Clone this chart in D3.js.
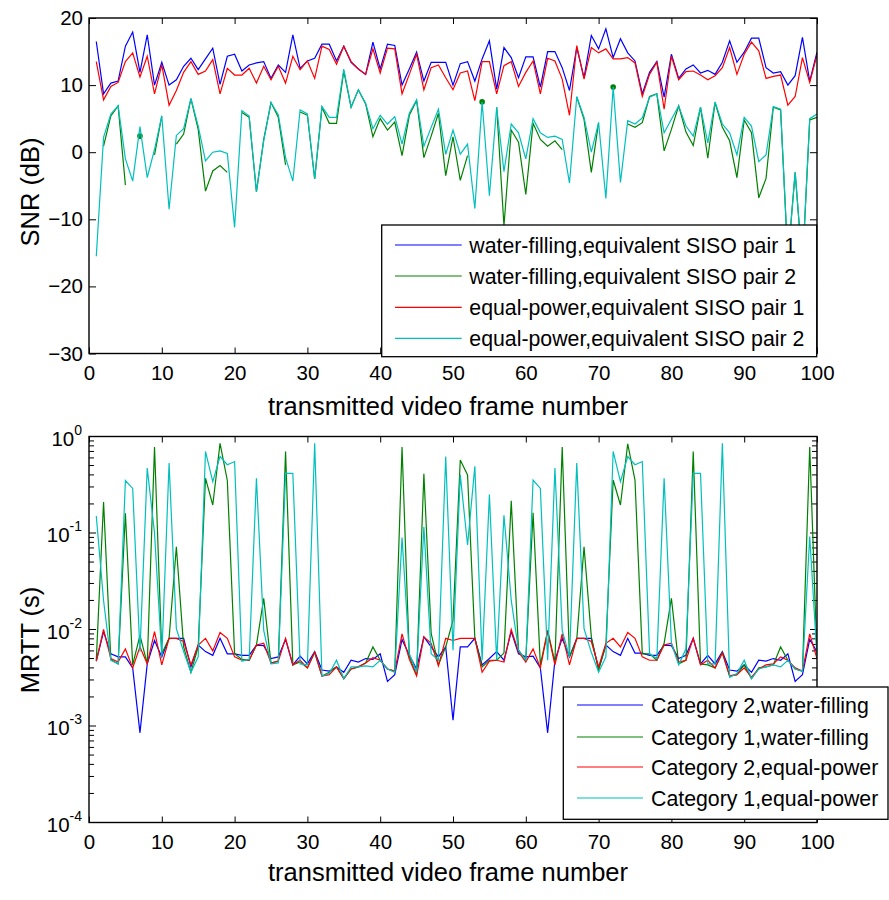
<!DOCTYPE html>
<html>
<head>
<meta charset="utf-8">
<script src="https://cdn.jsdelivr.net/npm/d3@7"></script>
<style>
  body { margin: 0; background: #fff; }
  svg { display: block; }
  text { font-family: "Liberation Sans", Arial, Helvetica, sans-serif; fill: #000; }
</style>
</head>
<body>
<svg id="chart" width="889" height="900"></svg>
<script>
// ---- data -------------------------------------------------------------
const frames = d3.range(1, 101);

// SNR (dB) of the equivalent SISO pairs, per transmitted frame
const snrWaterPair1 = [16.5,8.7,10.3,10.6,15.8,17.9,11.9,17.5,10.0,13.4,10.0,10.8,12.8,14.0,12.3,13.9,15.5,10.1,14.3,14.6,
  12.1,13.0,13.3,13.5,11.0,13.0,11.9,17.5,12.5,13.6,14.0,16.1,16.1,13.6,15.8,13.4,12.4,11.6,16.4,12.4,
  16.1,15.9,10.0,12.4,14.9,10.6,13.4,13.4,13.4,10.0,13.2,13.5,10.6,13.9,16.6,9.4,15.6,14.1,11.1,14.2,
  14.2,9.7,15.0,15.0,12.6,9.2,15.6,11.1,17.4,15.4,18.4,14.1,16.9,14.8,13.6,8.7,11.9,13.5,8.2,14.6,
  11.0,12.4,13.0,11.8,12.2,11.6,13.4,16.6,13.4,14.9,17.0,17.0,12.6,11.8,12.0,10.0,11.4,17.1,10.6,14.9];
const snrWaterPair2 = [null,0.9,5.4,6.9,-4.9,null,2.4,null,-0.4,5.4,null,1.2,2.7,8.0,3.4,-5.8,-2.8,-2.0,-3.0,null,
  5.9,5.2,-5.9,1.9,7.4,5.2,-1.9,null,6.0,5.5,-4.0,6.7,4.3,4.3,12.1,6.7,9.3,7.2,2.3,5.0,
  3.3,4.5,-0.5,5.5,7.7,-0.8,2.4,5.8,-3.5,2.3,-4.2,-0.5,null,7.5,null,6.7,-11.0,3.3,1.5,-6.3,
  4.3,1.9,0.9,1.7,0.4,null,8.2,4.9,-3.0,4.4,null,9.7,null,4.2,3.7,4.4,8.3,8.7,0.2,3.4,
  6.9,3.0,1.0,6.7,-0.9,7.4,3.7,1.7,-3.8,4.8,2.9,-6.8,-3.9,6.7,6.3,-16.0,-3.0,-17.0,4.8,5.2];
const snrEqualPair1 = [13.5,7.8,9.8,10.4,13.5,14.8,11.2,14.3,8.7,13.0,7.0,9.2,11.9,13.5,11.6,12.1,13.8,8.7,12.5,11.5,
  11.5,12.5,10.3,12.8,10.8,12.8,10.3,14.3,12.3,13.6,11.0,15.8,15.3,13.1,15.8,13.5,12.4,11.6,15.4,11.8,
  15.5,15.4,8.7,11.6,14.6,9.3,12.6,13.0,11.1,9.3,11.8,12.1,7.7,13.5,13.5,8.7,12.9,13.5,9.8,11.9,
  13.6,8.7,14.0,13.6,10.9,5.5,15.9,10.9,15.6,14.8,15.4,13.9,13.9,14.1,13.3,8.3,11.6,13.4,6.4,14.3,
  10.8,12.0,12.1,11.5,10.8,11.4,12.6,15.6,11.6,14.6,16.4,15.1,11.0,11.3,11.5,7.0,8.3,14.1,10.4,14.5];
const snrEqualPair2 = [-15.5,2.2,5.7,6.9,-1.0,-4.3,3.8,-3.8,0.4,5.4,-8.5,2.5,3.5,8.0,3.9,-1.3,0.0,0.2,-0.2,-11.2,
  6.2,5.4,-5.9,1.7,7.4,5.6,-0.8,-4.3,6.3,5.7,-4.0,6.8,5.2,5.2,12.4,6.7,9.3,7.3,3.5,5.5,
  4.2,5.3,1.2,5.8,7.8,0.9,3.7,6.4,-0.3,3.3,-0.3,1.2,-8.4,7.5,-6.5,6.7,-2.9,4.2,2.9,-1.0,
  5.0,2.9,2.2,2.4,1.9,-4.6,8.3,5.2,0.0,4.4,-6.9,9.7,-4.5,4.7,4.2,5.1,8.2,8.7,2.9,4.9,
  6.9,3.9,2.4,6.7,1.4,7.5,4.2,2.9,-0.4,5.2,3.9,-1.4,-0.4,6.8,6.4,-16.0,-3.0,-17.0,5.0,5.7];

// MRTT (s) per transmitted frame
const mrttCat2Water = [0.0047,0.0095,0.0056,0.0052,0.0052,0.0040,0.00085,0.0044,0.0077,0.0052,0.0081,0.0081,0.0081,0.0041,0.0069,0.0059,0.0054,0.0081,0.0056,0.0056,
  0.0054,0.0054,0.0069,0.0068,0.0050,0.0052,0.0079,0.0043,0.0053,0.0044,0.0059,0.0038,0.0037,0.0041,0.0036,0.0048,0.0046,0.0050,0.0049,0.0056,
  0.0029,0.0034,0.0079,0.0054,0.0039,0.0084,0.0066,0.0052,0.0066,0.00115,0.0066,0.0066,0.0081,0.0043,0.0050,0.0059,0.0048,0.0095,0.0056,0.0052,
  0.0053,0.0040,0.00085,0.0048,0.0081,0.0052,0.0081,0.0081,0.0081,0.0039,0.0069,0.0059,0.0054,0.0081,0.0057,0.0057,0.0054,0.0054,0.0069,0.0068,
  0.0050,0.0054,0.0081,0.0044,0.0054,0.0044,0.0059,0.0038,0.0037,0.0043,0.0036,0.0048,0.0047,0.0050,0.0048,0.0056,0.0029,0.0034,0.0079,0.0059];
const mrttCat1Water = [0.0048,0.21,0.0049,0.0044,0.16,0.0043,0.0087,0.0044,0.78,0.0056,0.0081,0.072,0.0066,0.0036,0.0066,0.37,0.195,0.85,0.35,0.0056,
  0.0049,0.0048,0.0069,0.021,0.0045,0.0047,0.70,0.0043,0.0046,0.0040,0.0058,0.0033,0.0036,0.0041,0.0031,0.0039,0.0041,0.0045,0.0066,0.0048,
  0.0039,0.0037,0.78,0.0052,0.0034,0.41,0.0091,0.0043,0.0066,0.0124,0.57,0.40,0.0081,0.0041,0.0048,0.0048,0.0057,0.216,0.0061,0.0048,
  0.162,0.0043,0.0098,0.0046,0.78,0.0052,0.0079,0.072,0.0084,0.0038,0.0069,0.354,0.195,0.84,0.354,0.0056,0.0056,0.0048,0.0072,0.021,
  0.0044,0.0048,0.70,0.0044,0.0043,0.0040,0.0058,0.0033,0.0034,0.0043,0.0031,0.0040,0.0041,0.0043,0.0066,0.0048,0.0039,0.0037,0.78,0.0052];
const mrttCat2Equal = [0.0047,0.0100,0.0050,0.0046,0.0063,0.0040,0.0066,0.0044,0.0095,0.0043,0.0081,0.0081,0.0075,0.0043,0.0069,0.0081,0.0060,0.0093,0.0081,0.0052,
  0.0048,0.0048,0.0069,0.0072,0.0045,0.0047,0.0081,0.0043,0.0048,0.0040,0.0058,0.0033,0.0034,0.0041,0.0031,0.0039,0.0041,0.0045,0.0051,0.0048,
  0.0039,0.0037,0.0090,0.0049,0.0033,0.0084,0.0072,0.0042,0.0081,0.0077,0.0081,0.0081,0.0081,0.0036,0.0047,0.0048,0.0046,0.0100,0.0059,0.0046,
  0.0063,0.0040,0.0095,0.0043,0.0090,0.0043,0.0081,0.0081,0.0075,0.0041,0.0072,0.0081,0.0066,0.0093,0.0081,0.0052,0.0048,0.0048,0.0069,0.0072,
  0.0046,0.0048,0.0081,0.0043,0.0048,0.0040,0.0057,0.0033,0.0034,0.0040,0.0032,0.0039,0.0043,0.0044,0.0052,0.0048,0.0040,0.0037,0.0090,0.0050];
const mrttCat1Equal = [0.15,0.020,0.0048,0.0044,0.35,0.29,0.0059,0.47,0.10,0.0052,0.53,0.0102,0.0059,0.0036,0.0052,0.70,0.34,0.62,0.51,0.55,
  0.0047,0.0049,0.37,0.0098,0.0044,0.0045,0.415,0.415,0.0044,0.0043,0.85,0.0033,0.0035,0.0048,0.0031,0.0041,0.0041,0.0042,0.0041,0.0048,
  0.0039,0.0036,0.09,0.0056,0.0036,0.116,0.0056,0.0048,0.62,0.0061,0.40,0.075,0.49,0.0048,0.25,0.0048,0.153,0.020,0.0061,0.0048,
  0.354,0.29,0.0048,0.47,0.0098,0.0052,0.53,0.0102,0.0058,0.0036,0.0052,0.70,0.34,0.62,0.51,0.55,0.0056,0.0050,0.37,0.0072,
  0.0043,0.0063,0.415,0.415,0.0044,0.0044,0.85,0.0032,0.0035,0.0048,0.0031,0.0039,0.0041,0.0043,0.0041,0.0048,0.0039,0.0037,0.092,0.0052];

// axis ticks and labels
const xTickValues = [0,10,20,30,40,50,60,70,80,90,100];
const snrTickValues = [-30,-20,-10,0,10,20];
const mrttTickExponents = [-4,-3,-2,-1,0];
const xAxisTitle = "transmitted video frame number";
const snrAxisTitle = "SNR (dB)";
const mrttAxisTitle = "MRTT (s)";

const snrSeriesNames = ["water-filling,equivalent SISO pair 1","water-filling,equivalent SISO pair 2",
  "equal-power,equivalent SISO pair 1","equal-power,equivalent SISO pair 2"];
const mrttSeriesNames = ["Category 2,water-filling","Category 1,water-filling",
  "Category 2,equal-power","Category 1,equal-power"];

// ---- drawing ----------------------------------------------------------
const colors = ["#0000ff", "#008000", "#ff0000", "#00bfbf"];
const svg = d3.select("#chart");
svg.append("rect").attr("width", 889).attr("height", 900).attr("fill", "#fff");

const x = d3.scaleLinear().domain([0, 100]).range([89, 817]);
const ySnr = d3.scaleLinear().domain([-30, 20]).range([353.5, 18]);
const yMrtt = d3.scaleLog().domain([1e-4, 1]).range([822.5, 436.5]);

const TICK_FONT = 20.5, LABEL_FONT = 25.5, LEGEND_FONT = 21.3;

function frameAxes(id, y, y0, y1) {
  const [xl, xr] = x.range();
  svg.append("clipPath").attr("id", id)
    .append("rect").attr("x", xl).attr("y", y1).attr("width", xr - xl).attr("height", y0 - y1);
  // x ticks, bottom (with labels) and top
  const gb = svg.append("g").attr("transform", `translate(0,${y0})`)
    .call(d3.axisBottom(x).tickValues(xTickValues).tickSizeInner(-6).tickSizeOuter(0).tickPadding(11.5));
  const gt = svg.append("g").attr("transform", `translate(0,${y1})`)
    .call(d3.axisTop(x).tickValues(xTickValues).tickSizeInner(-6).tickSizeOuter(0).tickFormat(""));
  [gb, gt].forEach(g => {
    g.select(".domain").remove();
    g.selectAll("line").attr("stroke", "#000").attr("stroke-width", 1);
    g.selectAll("text").attr("font-size", TICK_FONT).attr("font-family", null).attr("fill", "#000");
  });
  return gb;
}

function drawBox(y0, y1) {
  const [xl, xr] = x.range();
  svg.append("rect").attr("x", xl).attr("y", y1).attr("width", xr - xl).attr("height", y0 - y1)
    .attr("fill", "none").attr("stroke", "#000").attr("stroke-width", 1.4);
}

function drawLines(clipId, y, seriesList) {
  const g = svg.append("g").attr("clip-path", `url(#${clipId})`);
  const line = d3.line()
    .defined(d => d[1] !== null)
    .x(d => x(d[0])).y(d => y(d[1]));
  seriesList.forEach((vals, k) => {
    const pts = frames.map((f, i) => [f, vals[i]]);
    g.append("path").attr("d", line(pts)).attr("fill", "none")
      .attr("stroke", colors[k]).attr("stroke-width", 1.2).attr("stroke-linejoin", "miter");
    // isolated samples (no neighbours) shown as dots
    pts.forEach((p, i) => {
      if (p[1] === null) return;
      const prev = i > 0 ? vals[i - 1] : null, next = i < vals.length - 1 ? vals[i + 1] : null;
      if (prev === null && next === null) {
        g.append("circle").attr("cx", x(p[0])).attr("cy", y(p[1])).attr("r", 2.8).attr("fill", colors[k]);
      }
    });
  });
}

function drawLegend(names, box, lineX0, lineX1, textX, rowYs) {
  const g = svg.append("g");
  g.append("rect").attr("x", box.x).attr("y", box.y).attr("width", box.w).attr("height", box.h)
    .attr("fill", "#fff").attr("stroke", "#000").attr("stroke-width", 1.3);
  names.forEach((n, k) => {
    g.append("line").attr("x1", lineX0).attr("x2", lineX1).attr("y1", rowYs[k]).attr("y2", rowYs[k])
      .attr("stroke", colors[k]).attr("stroke-width", 1.2);
    g.append("text").attr("x", textX).attr("y", rowYs[k] + 7.6).attr("font-size", LEGEND_FONT).text(n);
  });
}

// ---------- upper panel: SNR ----------
const [s0, s1] = ySnr.range();
frameAxes("clipSnr", ySnr, s0, s1);
const gl = svg.append("g").attr("transform", `translate(${x.range()[0]},0)`)
  .call(d3.axisLeft(ySnr).tickValues(snrTickValues).tickSizeInner(-7).tickSizeOuter(0).tickPadding(6));
const gr = svg.append("g").attr("transform", `translate(${x.range()[1]},0)`)
  .call(d3.axisRight(ySnr).tickValues(snrTickValues).tickSizeInner(-7).tickSizeOuter(0).tickFormat(""));
[gl, gr].forEach(g => {
  g.select(".domain").remove();
  g.selectAll("line").attr("stroke", "#000");
  g.selectAll("text").attr("font-size", TICK_FONT).attr("font-family", null).attr("fill", "#000");
});
drawLines("clipSnr", ySnr, [snrWaterPair1, snrWaterPair2, snrEqualPair1, snrEqualPair2]);
drawBox(s0, s1);
drawLegend(snrSeriesNames, {x: 381.7, y: 225, w: 435, h: 131.7}, 395, 461.7, 469.3, [245, 276, 307.3, 338.3]);
svg.append("text").attr("x", 448).attr("y", 414.5).attr("text-anchor", "middle")
  .attr("font-size", LABEL_FONT).text(xAxisTitle);
svg.append("text").attr("transform", "translate(39,192) rotate(-90)").attr("text-anchor", "middle")
  .attr("font-size", LABEL_FONT).text(snrAxisTitle);

// ---------- lower panel: MRTT (log scale) ----------
const [m0, m1] = yMrtt.range();
frameAxes("clipMrtt", yMrtt, m0, m1);
const [xl, xr] = x.range();
const tickG = svg.append("g");
mrttTickExponents.forEach(e => {
  const ticksHere = e < 0 ? d3.range(1, 10).map(m => m * Math.pow(10, e)) : [1];
  ticksHere.forEach((v, j) => {
    const len = j === 0 ? 7 : 5;
    const yy = yMrtt(v);
    tickG.append("line").attr("x1", xl).attr("x2", xl + len).attr("y1", yy).attr("y2", yy).attr("stroke", "#000");
    tickG.append("line").attr("x1", xr).attr("x2", xr - len).attr("y1", yy).attr("y2", yy).attr("stroke", "#000");
  });
  const t = tickG.append("text").attr("x", 82).attr("y", yMrtt(Math.pow(10, e)) + 9)
    .attr("text-anchor", "end").attr("font-size", TICK_FONT);
  t.append("tspan").text("10");
  t.append("tspan").attr("dy", -11).attr("font-size", 14).text(String(e));
});
drawLines("clipMrtt", yMrtt, [mrttCat2Water, mrttCat1Water, mrttCat2Equal, mrttCat1Equal]);
drawBox(m0, m1);
drawLegend(mrttSeriesNames, {x: 563.3, y: 687, w: 324.7, h: 132.3}, 577, 643, 651, [705, 737, 767, 798]);
svg.append("text").attr("x", 448).attr("y", 881).attr("text-anchor", "middle")
  .attr("font-size", LABEL_FONT).text(xAxisTitle);
svg.append("text").attr("transform", "translate(39,640) rotate(-90)").attr("text-anchor", "middle")
  .attr("font-size", LABEL_FONT).text(mrttAxisTitle);
</script>
</body>
</html>
